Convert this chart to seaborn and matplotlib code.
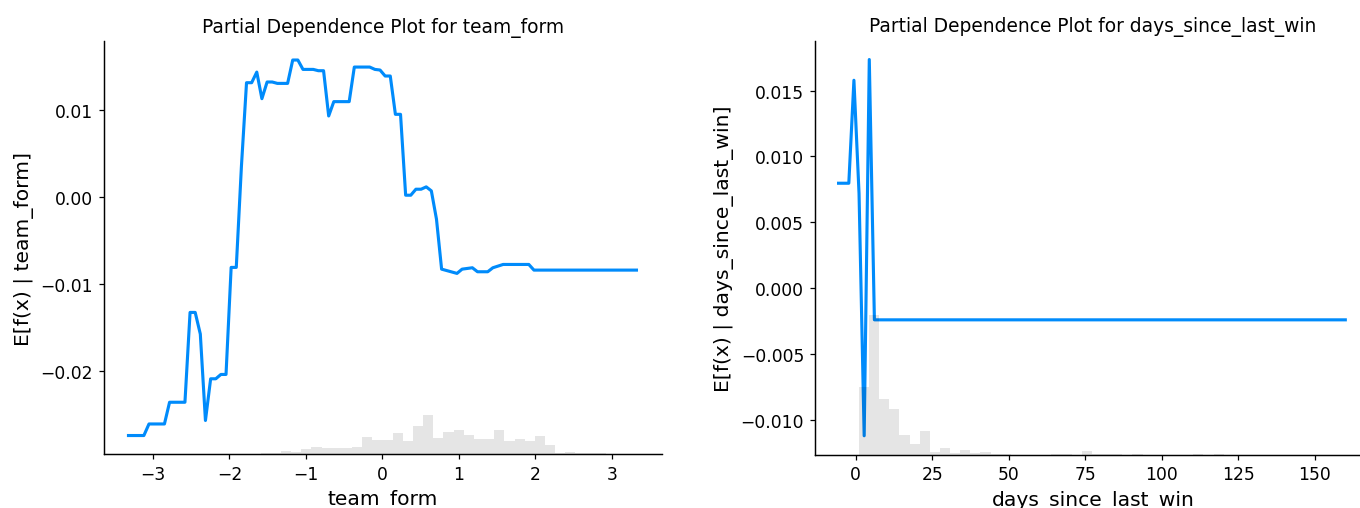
import numpy as np
import pandas as pd
import matplotlib
matplotlib.use("Agg")
import matplotlib.pyplot as plt
import seaborn as sns

# ---------------- data ----------------
# team_form partial dependence (vertices of the curve)
tf_x = [-3.320, -3.119, -3.052, -2.850, -2.783, -2.582, -2.515, -2.448, -2.381, -2.314,
        -2.246, -2.179, -2.112, -2.045, -1.978, -1.911, -1.844, -1.777, -1.710, -1.643,
        -1.576, -1.508, -1.441, -1.374, -1.240, -1.173, -1.106, -1.039, -0.905, -0.838,
        -0.770, -0.703, -0.636, -0.435, -0.368, -0.167, -0.099, -0.032, 0.035, 0.102,
        0.169, 0.236, 0.303, 0.370, 0.437, 0.505, 0.572, 0.639, 0.706, 0.773,
        0.974, 1.041, 1.175, 1.242, 1.376, 1.443, 1.577, 1.913, 1.980, 3.320]
tf_y = [-0.02743, -0.02743, -0.02610, -0.02610, -0.02360, -0.02360, -0.01326, -0.01326, -0.01575, -0.02570,
        -0.02090, -0.02090, -0.02040, -0.02040, -0.00808, -0.00808, 0.00350, 0.01318, 0.01318, 0.01440,
        0.01134, 0.01326, 0.01326, 0.01310, 0.01310, 0.01579, 0.01579, 0.01471, 0.01471, 0.01456,
        0.01456, 0.00935, 0.01100, 0.01100, 0.01498, 0.01498, 0.01471, 0.01464, 0.01395, 0.01395,
        0.00954, 0.00954, 0.00023, 0.00023, 0.00092, 0.00092, 0.00119, 0.00073, -0.00253, -0.00828,
        -0.00877, -0.00828, -0.00812, -0.00858, -0.00858, -0.00812, -0.00774, -0.00774, -0.00839, -0.00839]
tf_hist_range = (-3.32, 3.32)
tf_counts = [0, 0, 0, 0, 0, 0, 0, 0, 0, 0,
             0, 0, 1, 2, 2, 8, 5, 14, 18, 15,
             15, 15, 18, 42, 34, 34, 52, 31, 68, 95,
             39, 55, 58, 46, 37, 37, 58, 31, 37, 33,
             44, 23, 2, 6, 3, 2, 2, 1, 0, 0]

# days_since_last_win partial dependence (vertices of the curve)
ds_x = [-5.60, -3.93, -2.25, -0.58, 1.09, 2.77, 4.44, 6.11, 160.0]
ds_y = [0.00797, 0.00797, 0.00797, 0.01578, 0.00720, -0.01118, 0.01735, -0.00239, -0.00239]
ds_hist_range = (-5.6, 160.0)
ds_counts = [0, 0, 163, 337, 134, 109, 48, 26, 56, 5,
             15, 3, 10, 3, 7, 2, 2, 0, 0, 0,
             0, 1, 1, 0, 8, 1, 1, 1, 0, 1,
             0, 0, 0, 0, 0, 1, 0, 1, 0, 0,
             0, 0, 0, 0, 0, 0, 0, 0, 0, 0]

n_samples = 1000
line_color = "#008bfb"

# ---------------- figure ----------------
DPI = 112
fig = plt.figure(figsize=(1360 / DPI, 509 / DPI), dpi=DPI)


def panel(rect, fname, xs, ys, hrange, counts, xlim):
    ax = fig.add_axes(rect)
    line_df = pd.DataFrame({"x": xs, "y": ys})
    sns.lineplot(data=line_df, x="x", y="y", ax=ax, color=line_color,
                 linewidth=2.0, sort=False, estimator=None)
    ax2 = ax.twinx()
    edges = np.linspace(hrange[0], hrange[1], len(counts) + 1)
    centers = (edges[:-1] + edges[1:]) / 2
    hist_df = pd.DataFrame({"v": centers, "w": counts})
    sns.histplot(data=hist_df, x="v", weights="w", bins=list(edges), ax=ax2,
                 color="black", alpha=0.1, linewidth=0, stat="count")
    ax2.set_ylim(0, n_samples)
    ax2.set_yticks([])
    ax2.set_ylabel("")
    ax2.set_xlabel("")
    for s in ["right", "top"]:
        ax.spines[s].set_visible(False)
        ax2.spines[s].set_visible(False)
    ax.set_xlim(*xlim)
    ax.tick_params(labelsize=11)
    ax.set_xlabel(fname, fontsize=13)
    ax.set_ylabel("E[f(x) | " + fname + "]", fontsize=13)
    ax.set_title("Partial Dependence Plot for " + fname, fontsize=12)
    return ax


panel([104 / 1360, 0.1055, 557.7 / 1360, 0.8115], "team_form",
      tf_x, tf_y, tf_hist_range, tf_counts, (-3.64, 3.65))
panel([815 / 1360, 0.1050, 555.7 / 1360, 0.8130], "days_since_last_win",
      ds_x, ds_y, ds_hist_range, ds_counts, (-13.3, 168.3))

fig.savefig("out.png", dpi=DPI)
